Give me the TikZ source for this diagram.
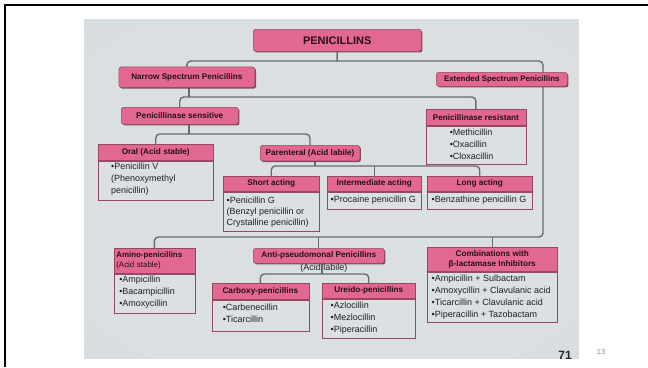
\documentclass[tikz,border=0pt]{standalone}
\usepackage{fontspec}
\setmainfont{Liberation Sans}
\usetikzlibrary{calc,shadows}
\pgfdeclarelayer{photo}
\pgfdeclarelayer{wires}
\pgfsetlayers{photo,wires,main}

\definecolor{pk}{RGB}{226,104,146}
\definecolor{pkline}{RGB}{150,72,98}
\definecolor{pkshadow}{RGB}{110,45,65}
\definecolor{bodyfill}{RGB}{220,224,226}
\definecolor{hdrtxt}{RGB}{40,14,24}
\definecolor{txt}{RGB}{32,32,38}
\definecolor{wirec}{RGB}{105,108,110}
\definecolor{paperA}{RGB}{218,224,225}
\definecolor{paperB}{RGB}{206,210,213}
\definecolor{paperC}{RGB}{172,171,180}

\pgfdeclareradialshading{paper}{\pgfpoint{0bp}{0bp}}{%
  color(0bp)=(paperA); color(30bp)=(paperA); color(50bp)=(paperB); color(71bp)=(paperC)}

\newcommand\hdrfont{\bfseries\fontsize{8.2}{9.6}\selectfont}
\newcommand\itemfont{\fontsize{9}{11.8}\selectfont}

\begin{document}
\begin{tikzpicture}[x=1pt,y=-1pt,
  wire/.style={draw=wirec, line width=1.4pt, rounded corners=4pt},
  pill/.style={draw=pkline, fill=pk, line width=0.5pt, rounded corners=2.5pt,
    inner sep=0pt, anchor=north west, text=hdrtxt, font=\hdrfont,
    drop shadow={shadow xshift=1.2pt, shadow yshift=-1.2pt, fill=pkshadow, opacity=0.85}},
  hdr/.style={draw=pkline, fill=pk, line width=0.5pt, inner sep=0pt,
    anchor=north west, align=center, text=hdrtxt, font=\hdrfont},
  bodybox/.style={draw=pkline, fill=bodyfill, line width=0.5pt, inner sep=0pt, anchor=north west},
  item/.style={inner sep=0pt, anchor=north west, align=left, text=txt, font=\itemfont},
]
\useasboundingbox (0,0) rectangle (648,367);

% white slide and the photographed page
\begin{pgfonlayer}{photo}
  \fill[white] (0,0) rectangle (648,367);
  \shade[shading=paper] (84,19) rectangle (578.5,358.5);
\end{pgfonlayer}

% slide frame
\draw[black, line width=2pt] (4,5.3) -- (648,5.3);
\draw[black, line width=2pt] (5,4.3) -- (5,367);

% ---- top level ----
\node[pill, minimum width=168, minimum height=22, font=\bfseries\fontsize{11}{13}\selectfont] (pen) at (253,29) {PENICILLINS};
\node[pill, minimum width=136, minimum height=20.5] (narrow) at (118.6,66.7) {Narrow Spectrum Penicillins};
\node[pill, minimum width=131, minimum height=14, font=\bfseries\fontsize{7.9}{9}\selectfont] (ext) at (436,72) {Extended Spectrum Penicillins};

% ---- narrow spectrum ----
\node[pill, minimum width=117, minimum height=17] (sens) at (121,107) {Penicillinase sensitive};

\node[hdr, minimum width=100, minimum height=16] (res) at (425.6,109) {Penicillinase resistant};
\node[bodybox, minimum width=100, minimum height=38] (res-b) at (res.south west) {};
\node[item] (res-t) at ($(res-b.north west)+(24,3.5)$) {•Methicillin\\•Oxacillin\\•Cloxacillin};

\node[hdr, minimum width=115, minimum height=16] (oral) at (98,144) {Oral (Acid stable)};
\node[bodybox, minimum width=115, minimum height=39] (oral-b) at (oral.south west) {};
\node[item] (oral-t) at ($(oral-b.north west)+(13,2.5)$) {•Penicillin V\\(Phenoxymethyl\\penicillin)};

\node[pill, minimum width=99.5, minimum height=15.7] (par) at (260,145) {Parenteral (Acid labile)};

\node[hdr, minimum width=96, minimum height=15] (short) at (223,176) {Short acting};
\node[bodybox, minimum width=96, minimum height=39] (short-b) at (short.south west) {};
\node[item, font=\fontsize{9}{11.2}\selectfont] (short-t) at ($(short-b.north west)+(3.5,5)$) {•Penicillin G\\(Benzyl penicillin or\\Crystalline penicillin)};

\node[hdr, minimum width=94, minimum height=15] (inter) at (327,176) {Intermediate acting};
\node[bodybox, minimum width=94, minimum height=17] (inter-b) at (inter.south west) {};
\node[item] (inter-t) at ($(inter-b.north west)+(3.5,4)$) {•Procaine penicillin G};

\node[hdr, minimum width=105, minimum height=15] (long) at (427,176) {Long acting};
\node[bodybox, minimum width=105, minimum height=17] (long-b) at (long.south west) {};
\node[item] (long-t) at ($(long-b.north west)+(4.5,4)$) {•Benzathine penicillin G};

% ---- extended spectrum ----
\node[hdr, minimum width=81, minimum height=25, text width=76pt, inner xsep=2.5pt, align=left, font=\bfseries\fontsize{7.9}{10}\selectfont] (amino) at (113.6,248) {Amino-penicillins\\{\mdseries(Acid stable)}};
\node[bodybox, minimum width=81, minimum height=39] (amino-b) at (amino.south west) {};
\node[item] (amino-t) at ($(amino-b.north west)+(5.5,2.5)$) {•Ampicillin\\•Bacampicillin\\•Amoxycillin};

\node[pill, minimum width=131, minimum height=15] (anti) at (253,248) {Anti-pseudomonal Penicillins};
\node[inner sep=0pt, text=txt, font=\itemfont] (anti-note) at (324,268) {(Acid labile)};

\node[hdr, minimum width=97, minimum height=16] (carb) at (211.6,283) {Carboxy-penicillins};
\node[bodybox, minimum width=97, minimum height=31] (carb-b) at (carb.south west) {};
\node[item] (carb-t) at ($(carb-b.north west)+(11,4.5)$) {•Carbenecillin\\•Ticarcillin};

\node[hdr, minimum width=93, minimum height=15] (ureido) at (322,283) {Ureido-penicillins};
\node[bodybox, minimum width=93, minimum height=39] (ureido-b) at (ureido.south west) {};
\node[item] (ureido-t) at ($(ureido-b.north west)+(8.5,3.5)$) {•Azlocillin\\•Mezlocillin\\•Piperacillin};

\node[hdr, minimum width=130, minimum height=24, font=\bfseries\fontsize{8.2}{10.5}\selectfont] (combo) at (427,247) {Combinations with\\β-lactamase Inhibitors};
\node[bodybox, minimum width=130, minimum height=50] (combo-b) at (combo.south west) {};
\node[item] (combo-t) at ($(combo-b.north west)+(4.5,3.5)$) {•Ampicillin + Sulbactam\\•Amoxycillin + Clavulanic acid\\•Ticarcillin + Clavulanic acid\\•Piperacillin + Tazobactam};

% page number and slide number
\node[inner sep=0pt, font=\bfseries\fontsize{12}{14}\selectfont, text=black!85] (pageno) at (565,355) {71};
\node[inner sep=0pt, font=\fontsize{7.5}{9}\selectfont, text=black!45] (slideno) at (601,352) {13};

% ---- connectors ----
\coordinate (j-top) at (337,61);
\coordinate (spine) at (543,237);
\coordinate (j-narrow) at (189,97);
\coordinate (j-sens) at (189,134);
\coordinate (j-par) at (315,166);
\coordinate (j-anti) at (322,274);

\begin{pgfonlayer}{wires}
  \draw[wire] (pen.south) -- (j-top);
  \draw[wire] (narrow.north) |- (j-top) -| (spine) -| (amino.north);
  \draw[wire] (anti.north) -- (anti.north |- spine);
  \draw[wire] (combo.north) -- (combo.north |- spine);

  \draw[wire] (narrow.south -| j-narrow) -- (j-narrow);
  \draw[wire] (sens.north) |- (j-narrow) -| (res.north);

  \draw[wire] (sens.south -| j-sens) -- (j-sens);
  \draw[wire] (oral.north) |- (j-sens) -| (par.north);

  \draw[wire] (par.south -| j-par) -- (j-par);
  \draw[wire] (short.north) |- (j-par) -| (long.north);
  \draw[wire] (inter.north) -- (inter.north |- j-par);

  \draw[wire] (anti.south -| j-anti) -- (j-anti);
  \draw[wire] (carb.north) |- (j-anti) -| (ureido.north);
\end{pgfonlayer}
\end{tikzpicture}
\end{document}
